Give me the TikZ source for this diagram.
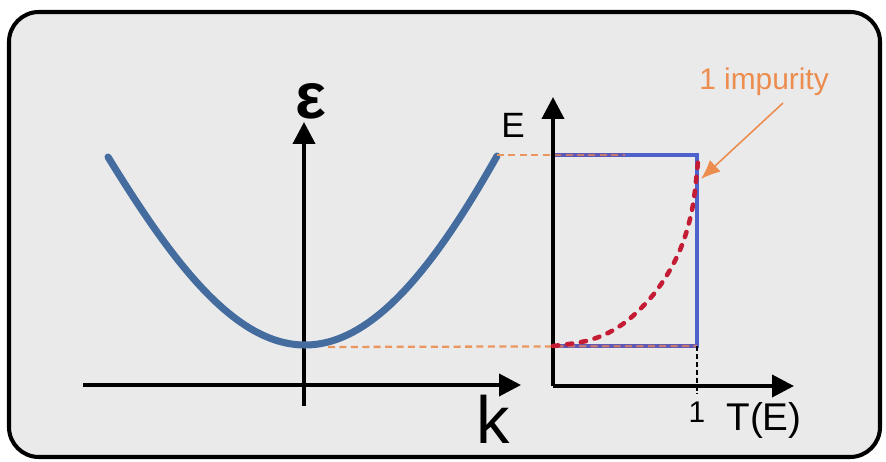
\documentclass[tikz,border=0pt]{standalone}
\usepackage{fontspec}
\setmainfont{Liberation Sans}
\usepackage{tikz}
\usetikzlibrary{arrows.meta,calc,positioning}
\definecolor{PanelGray}{RGB}{234,234,234}
\definecolor{BandBlue}{RGB}{68,108,158}
\definecolor{StepBlue}{RGB}{78,98,205}
\definecolor{GuideOrange}{RGB}{236,150,95}
\definecolor{DotRed}{RGB}{196,28,52}
\definecolor{NoteOrange}{RGB}{236,140,78}
\newcommand{\axisline}[2]{%
  \draw[line width=2.2pt,-{Triangle[length=12.5pt,width=12.5pt]}] (#1)--(#2);}
\newcommand{\fsz}[1]{\fontsize{#1}{#1}\selectfont}

\begin{document}
\begin{tikzpicture}[x=0.02cm,y=-0.02cm]
  \useasboundingbox (0,0) rectangle (886,462);
  \fill[white] (0,0) rectangle (886,462);
  \draw[line width=2.3pt,fill=PanelGray,rounded corners=17pt] (9,12) rectangle (880,457);
  % left panel: band
  \coordinate (kstart) at (83,385);
  \coordinate (kend) at (521,385);
  \coordinate (estart) at (304,406);
  \coordinate (eend) at (304,122);
  \coordinate (bandtop) at (497,155);
  \coordinate (bandmin) at (328,347);
  \axisline{kstart}{kend}
  \axisline{estart}{eend}
  \draw[BandBlue,line width=4pt,line cap=round]
    plot[domain=108:305,samples=60] (\x,{345-188*(1.15*((305-\x)/197)^2-0.15*((305-\x)/197)^4)})
    -- plot[domain=305:497,samples=60] (\x,{345-189*(1.1*((\x-305)/192)^2-0.1*((\x-305)/192)^4)});
  \node[inner sep=0] (eps) at (311,101) {\fsz{37}\bfseries ε};
  \node[inner sep=0] (klab) at (493,419) {\fsz{38}k};
  % right panel: transmission
  \coordinate (torig) at (553,386);
  \coordinate (tend) at (794,386);
  \coordinate (Etop) at (553,97);
  \coordinate (stepTL) at (553,155);
  \coordinate (stepTR) at (697,155);
  \coordinate (stepBR) at (697,346);
  \coordinate (stepBL) at (553,346);
  \coordinate (tick) at (697,394);
  \draw[StepBlue,line width=2.6pt] (stepTL)--(stepTR)--(stepBR)--(stepBL);
  \draw[GuideOrange,line width=1.3pt,dash pattern=on 4pt off 2.5pt] (bandtop)--(625,155);
  \draw[GuideOrange,line width=1.3pt,dash pattern=on 4pt off 2.5pt] (bandmin)--(stepBR);
  \draw[StepBlue!60!DotRed,opacity=0.35,line width=2.6pt] (stepTL)--(625,155);
  \draw[StepBlue!60!DotRed,opacity=0.35,line width=2.6pt] (stepBL)--(stepBR);
  \draw[line width=0.6pt,dash pattern=on 3pt off 1.5pt] (stepBR)--(tick);
  \axisline{torig}{tend}
  \axisline{torig}{Etop}
  \draw[DotRed,line width=2.6pt,line cap=round,dash pattern=on 3pt off 5pt] plot[smooth,tension=0.6] coordinates
    {(553,346) (590,340) (620,326) (647,302) (667,275) (682,245) (692,210) (697,172) (698,156)};
  \node[inner sep=0] (Elab) at (513,125) {\fsz{20}E};
  \node[inner sep=0] (onelab) at (697,412) {\fsz{17}1};
  \node[inner sep=0] (Tlab) at (764,420) {\fsz{22}T(E)};
  % annotation
  \node[inner sep=0,text=NoteOrange] (note) at (764,82) {\fsz{17}1 impurity};
  \coordinate (hit) at (701,179);
  \draw[NoteOrange,line width=0.9pt,-{Latex[length=11pt,width=9pt]}] (783,103)--(hit);
\end{tikzpicture}
\end{document}
